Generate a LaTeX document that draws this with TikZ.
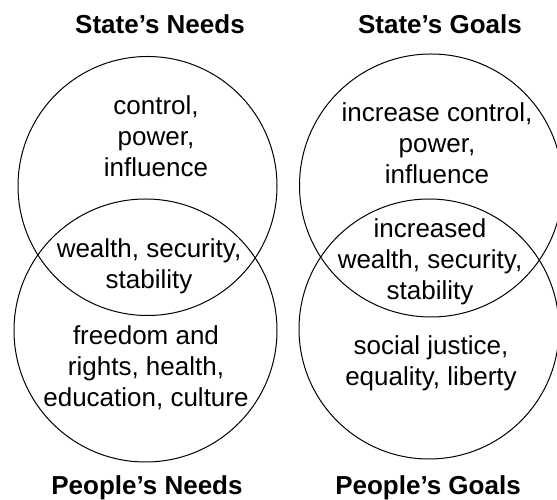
\documentclass[tikz,border=0pt]{standalone}
\usepackage{fontspec}
\setmainfont{Liberation Sans}
\begin{document}
\begin{tikzpicture}[x=1pt,y=1pt,
  venn/.style={draw=black,line width=1pt},
  body/.style={align=center,anchor=base,inner sep=0pt,font=\fontsize{26}{31}\selectfont},
  title/.style={anchor=base,inner sep=0pt,font=\fontsize{26}{31}\selectfont\bfseries}]
\useasboundingbox (0,0) rectangle (557,500);
% circles (y = 500 - pixel row)
\draw[venn] (147.5,314) circle (129.5);
\draw[venn] (145.5,169.5) circle (131.5);
\draw[venn] (431,314.5) circle (131.5);
\draw[venn] (429,171) circle (130);
% titles
\node[title] (tsn) at (160,466) {State’s Needs};
\node[title] (tsg) at (440,466) {State’s Goals};
\node[title] (tpn) at (147,5) {People’s Needs};
\node[title] (tpg) at (428,5) {People’s Goals};
% texts (base = last line's baseline)
\node[body] (ln1) at (156,323) {control,\\power,\\influence};
\node[body] (ln2) at (149,211) {wealth, security,\\stability};
\node[body] (ln3) at (146,93) {freedom and\\rights, health,\\education, culture};
\node[body] (rg1) at (437,316) {increase control,\\power,\\influence};
\node[body] (rg2) at (430,200) {increased\\wealth, security,\\stability};
\node[body] (rg3) at (431,114) {social justice,\\equality, liberty};
\end{tikzpicture}
\end{document}
